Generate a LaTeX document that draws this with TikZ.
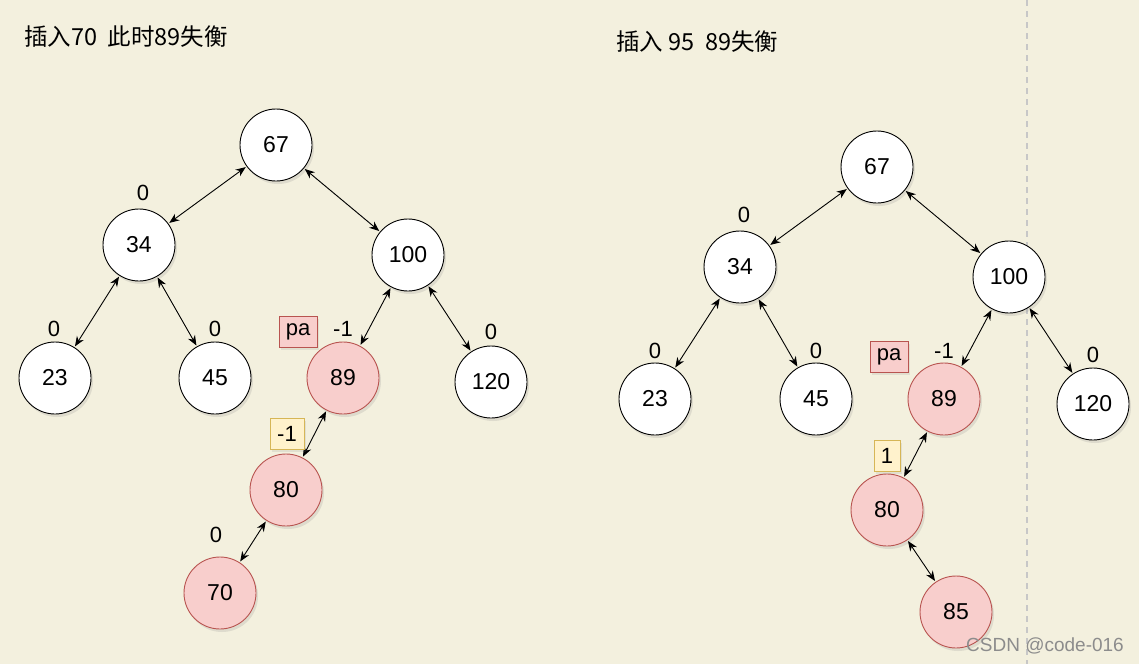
\documentclass[tikz,border=0pt]{standalone}
\usepackage{fontspec}
\setmainfont{Liberation Sans}
\newfontfamily\cjk{Noto Sans CJK SC}
\usetikzlibrary{arrows.meta,shadows}
\definecolor{bg}{HTML}{F3F0DE}
\definecolor{pinkf}{HTML}{F8CECC}
\definecolor{pinkd}{HTML}{B85450}
\definecolor{yelf}{HTML}{FFF2CC}
\definecolor{yeld}{HTML}{D6B656}
\tikzset{
  tn/.style={circle, draw=black, fill=white, line width=0.9pt, minimum size=72pt, inner sep=0pt,
    font=\fontsize{23}{27}\selectfont, drop shadow={opacity=0.18, shadow xshift=2pt, shadow yshift=-3pt}},
  hot/.style={tn, draw=pinkd, fill=pinkf},
  bf/.style={font=\fontsize{22}{26}\selectfont, inner sep=0pt},
  pabox/.style={draw=pinkd, fill=pinkf, line width=0.9pt, minimum width=38pt, minimum height=31pt, inner sep=0pt,
    font=\fontsize{22}{26}\selectfont, drop shadow={opacity=0.15, shadow xshift=1.5pt, shadow yshift=-2pt}},
  ybox/.style={draw=yeld, fill=yelf, line width=0.9pt, minimum width=34pt, minimum height=31pt, inner sep=0pt,
    font=\fontsize{22}{26}\selectfont, drop shadow={opacity=0.15, shadow xshift=1.5pt, shadow yshift=-2pt}},
  lnk/.style={{Stealth[length=10pt,width=8pt]}-{Stealth[length=10pt,width=8pt]}, line width=0.9pt, shorten <=1pt, shorten >=1pt},
  ttl/.style={font=\cjk\fontsize{23.5}{28}\selectfont, anchor=west, inner sep=0pt},
}
\begin{document}
\begin{tikzpicture}[x=1pt,y=-1pt]
\fill[bg] (0,0) rectangle (1139,664);
\useasboundingbox (0,0) rectangle (1139,664);
\draw[draw=black!22, line width=1.5pt, dash pattern=on 6pt off 5pt] (1027,0) -- (1027,664);
% titles
\node[ttl] (t1) at (24,37) {插入70\ \ 此时89失衡};
\node[ttl] (t2) at (616,42) {插入 95\ \ 89失衡};
% left tree
\node[tn] (a67) at (276,145) {67};
\node[tn] (a34) at (139,245) {34};
\node[tn] (a100) at (408,255) {100};
\node[tn] (a23) at (55,378) {23};
\node[tn] (a45) at (215,378) {45};
\node[hot] (a89) at (343,378) {89};
\node[tn] (a120) at (491,382) {120};
\node[hot] (a80) at (286,490) {80};
\node[hot] (a70) at (220,593) {70};
\draw[lnk] (a67) -- (a34);
\draw[lnk] (a67) -- (a100);
\draw[lnk] (a34) -- (a23);
\draw[lnk] (a34) -- (a45);
\draw[lnk] (a100) -- (a89);
\draw[lnk] (a100) -- (a120);
\draw[lnk] (a89) -- (a80);
\draw[lnk] (a80) -- (a70);
\node[bf] (al1) at (143,193) {0};
\node[bf] (al2) at (54,329) {0};
\node[bf] (al3) at (215,329) {0};
\node[bf] (al4) at (343,329) {-1};
\node[bf] (al5) at (491,332) {0};
\node[bf] (al6) at (216,535) {0};
\node[pabox] (apa) at (298,332) {pa};
\node[ybox] (ay) at (287,434) {-1};
% right tree
\node[tn] (b67) at (877,167) {67};
\node[tn] (b34) at (740,267) {34};
\node[tn] (b100) at (1009,277) {100};
\node[tn] (b23) at (655,399) {23};
\node[tn] (b45) at (816,399) {45};
\node[hot] (b89) at (944,399) {89};
\node[tn] (b120) at (1093,404) {120};
\node[hot] (b80) at (887,510) {80};
\node[hot] (b85) at (956,612) {85};
\draw[lnk] (b67) -- (b34);
\draw[lnk] (b67) -- (b100);
\draw[lnk] (b34) -- (b23);
\draw[lnk] (b34) -- (b45);
\draw[lnk] (b100) -- (b89);
\draw[lnk] (b100) -- (b120);
\draw[lnk] (b89) -- (b80);
\draw[lnk] (b80) -- (b85);
\node[bf] (bl1) at (744,215) {0};
\node[bf] (bl2) at (655,351) {0};
\node[bf] (bl3) at (816,351) {0};
\node[bf] (bl4) at (944,351) {-1};
\node[bf] (bl5) at (1093,355) {0};
\node[pabox] (bpa) at (889,357) {pa};
\node[ybox, minimum width=26pt] (by) at (887,456) {1};
% watermark
\node[font=\fontsize{19}{22}\selectfont, text=black!45, inner sep=0pt] (wm) at (1045,646) {CSDN @code-016};
\end{tikzpicture}
\end{document}
